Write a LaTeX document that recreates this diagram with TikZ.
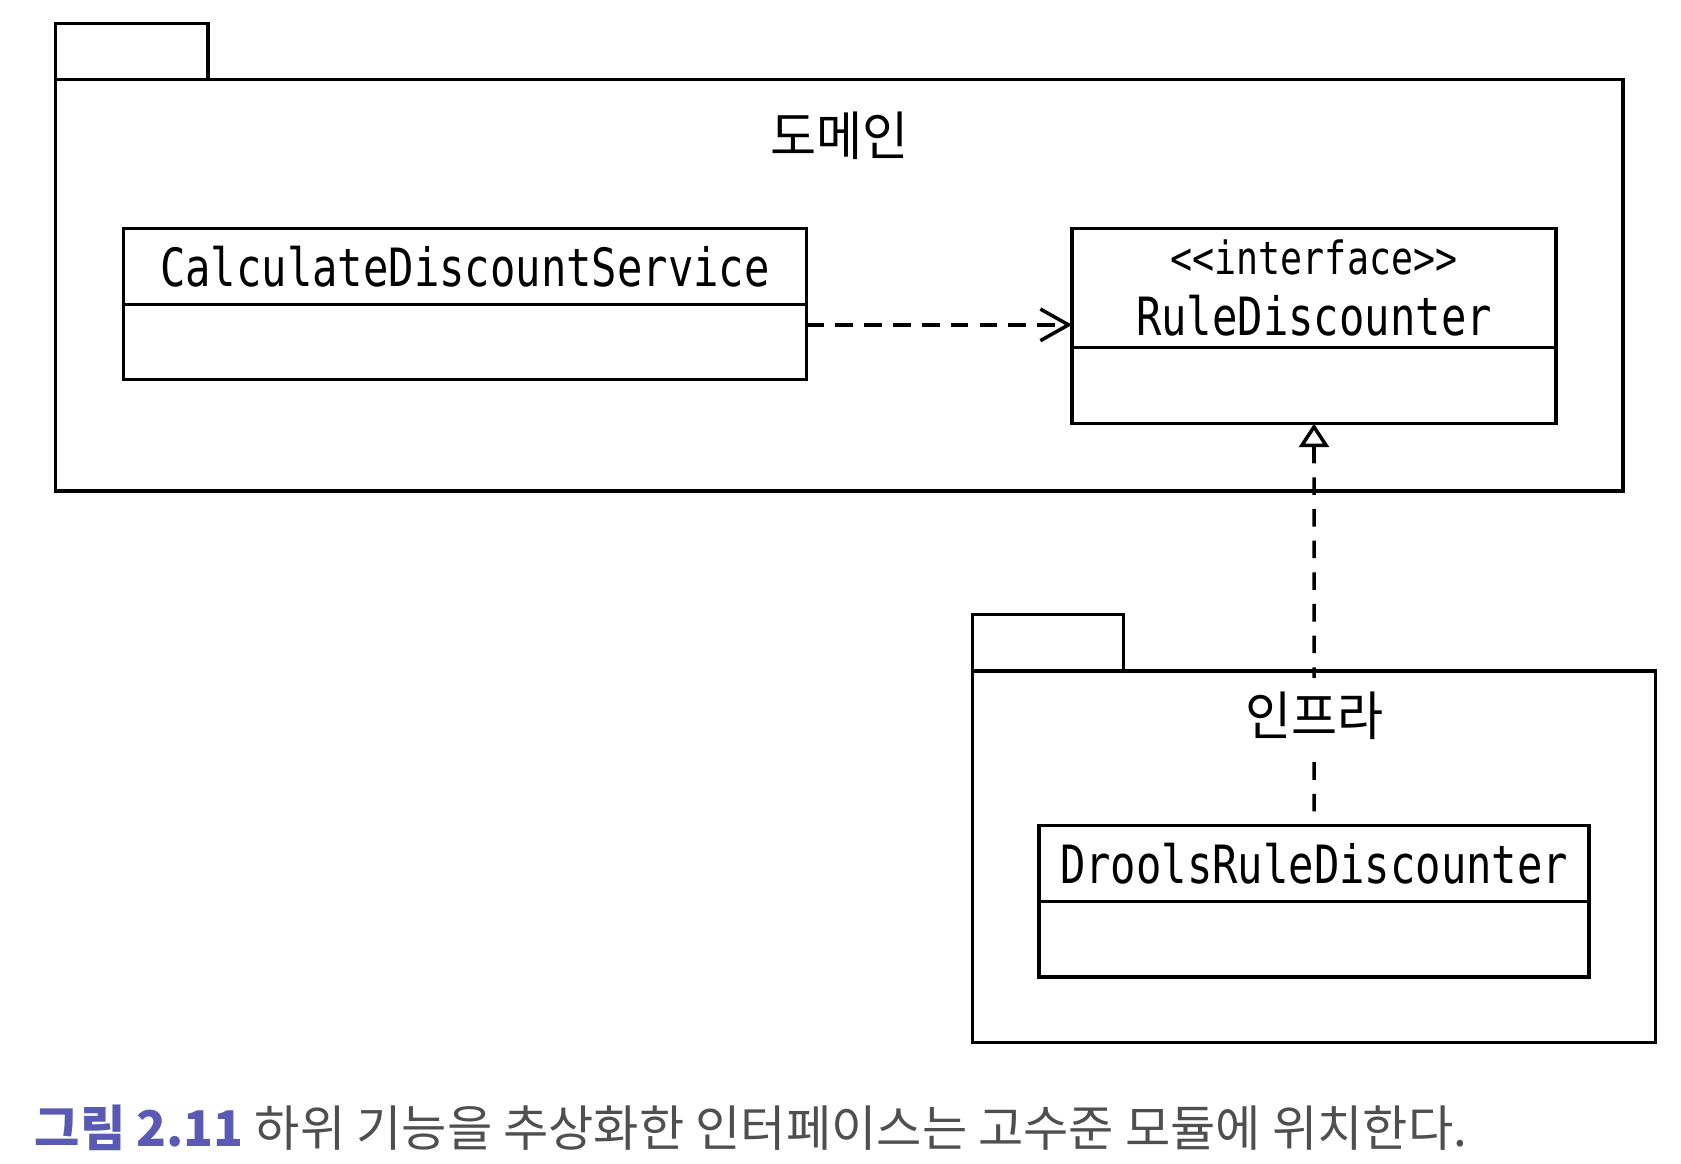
\documentclass[tikz,border=0pt]{standalone}
\usepackage{fontspec}
\usetikzlibrary{arrows.meta}
\newfontfamily\umlfont[FakeStretch=0.8,Ligatures=TeXOff]{DejaVu Sans Mono}
\newfontfamily\korfont[FakeStretch=0.95]{Noto Sans CJK KR}
\newfontfamily\capfont{Noto Sans CJK KR}
\definecolor{figblue}{HTML}{5A5AB4}
\definecolor{capgray}{HTML}{4F4F4F}
\tikzset{
	package/.style = {draw, rectangle, anchor=north west, inner sep=0pt, outer sep=0pt},
	classhead/.style = {draw, rectangle, anchor=north west, inner sep=0pt, outer sep=0pt,
		align=center, font=\umlfont\fontsize{15}{18}\selectfont},
	classbody/.style = {draw, rectangle, anchor=north west, inner sep=0pt, outer sep=0pt},
	pkglabel/.style = {font=\korfont\fontsize{15}{18}\selectfont},
	dependency/.style = {dash pattern=on 5pt off 3.2pt, -{Straight Barb[length=8pt,width=9pt]}},
	realization/.style = {dash pattern=on 5pt off 4pt, -{Triangle[open,length=6.7pt,width=8.5pt]}}
}
\begin{document}
\begin{tikzpicture}[x=0.01cm, y=-0.01cm, line width=1pt]
	\useasboundingbox (0,0) rectangle (1681,1164);
	% packages
	\node (domain) at (55.7, 79.3) [package, minimum width=15.664cm, minimum height=4.117cm] {};
	\draw (domain.north west) rectangle ++(152.3, -55.7);
	\node (domainlbl) at (839.5, 136.2) [pkglabel] {도메인};
	\node (infra) at (972.4, 671.1) [package, minimum width=6.829cm, minimum height=3.71cm] {};
	\draw (infra.north west) rectangle ++(151.2, -56.8);
	% classes
	\node (cdshead) at (123.3, 228.4) [classhead, minimum width=6.829cm, minimum height=0.761cm] {CalculateDiscountService};
	\node (cdsbody) at (cdshead.south west) [classbody, minimum width=6.829cm, minimum height=0.75cm] {};
	\node (rdhead) at (1072.1, 228.4) [classhead, minimum width=4.835cm, minimum height=1.19cm]
		{{\fontsize{13}{15}\selectfont <<interface>>}\\[-0.5pt]RuleDiscounter};
	\node (rdbody) at (rdhead.south west) [classbody, minimum width=4.835cm, minimum height=0.761cm] {};
	\node (drdhead) at (1038.9, 825.5) [classhead, minimum width=5.5cm, minimum height=0.761cm] {DroolsRuleDiscounter};
	\node (drdbody) at (drdhead.south west) [classbody, minimum width=5.5cm, minimum height=0.751cm] {};
	% connectors
	\coordinate (usestart) at ([yshift=-0.203cm]cdsbody.north east);
	\draw[dependency] (usestart) -- (usestart -| rdhead.west);
	\draw[realization, shorten <=4pt] (drdhead.north) -- (rdbody.south);
	\node (infralbl) at (1314.4, 716.2) [pkglabel, fill=white, inner sep=4pt] {인프라};
	% caption
	\node (caption) at (33, 1128) [anchor=west, inner sep=0pt, font=\capfont\fontsize{14}{16}\selectfont]
		{{\bfseries\color{figblue}그림 2.11} {\color{capgray}하위 기능을 추상화한 인터페이스는 고수준 모듈에 위치한다.}};
\end{tikzpicture}
\end{document}
